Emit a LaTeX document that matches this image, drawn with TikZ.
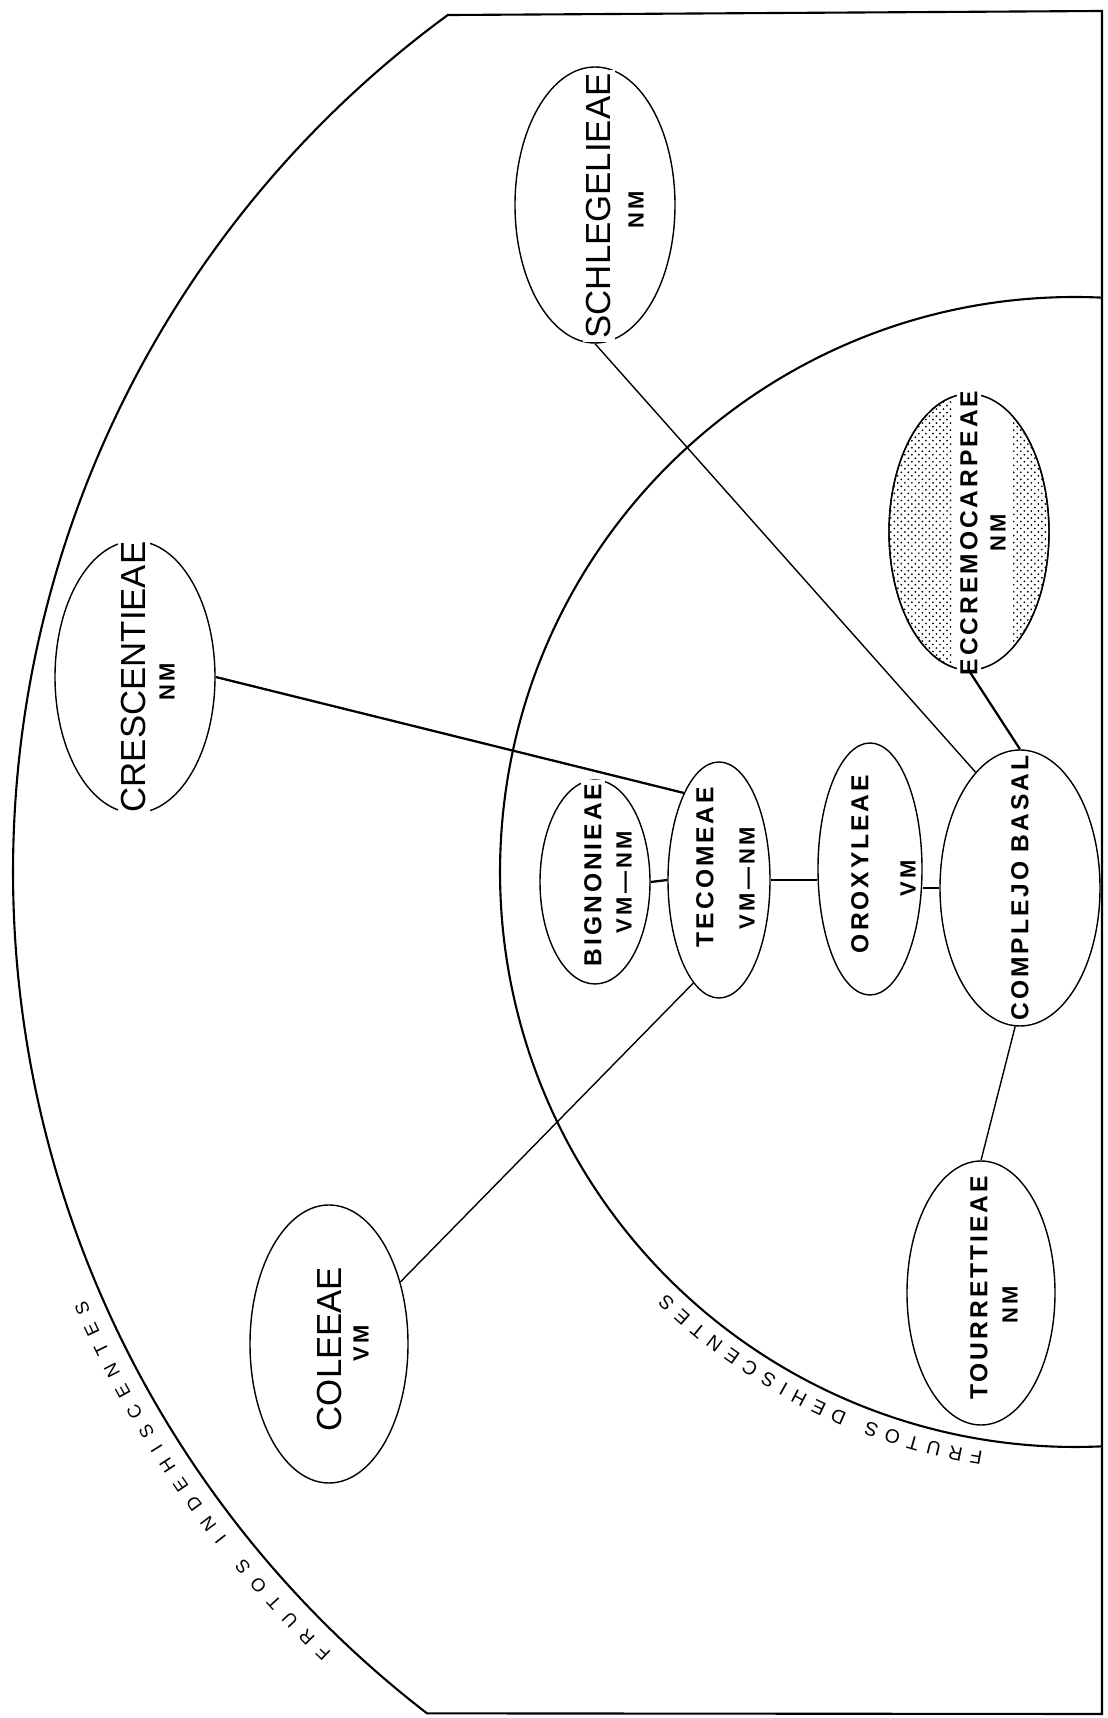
\documentclass[tikz,border=0pt]{standalone}
\usepackage{fontspec}
\setmainfont{Liberation Sans}
\newfontfamily\tribenamefont{Liberation Sans}
\newfontfamily\tribeboldfont[LetterSpace=12]{Liberation Sans}
\newfontfamily\fruittypefont[LetterSpace=15]{Liberation Sans}
\newcommand{\arclabelfont}{\tribenamefont\fontsize{10.5}{11}\selectfont}
\newcommand{\arclabelbig}{\tribenamefont\fontsize{11}{12}\selectfont}
\usetikzlibrary{shapes.geometric, patterns, decorations.text, calc}

% stippled fill
\pgfdeclarepatternformonly{stipple}{\pgfpoint{-0.1pt}{-0.1pt}}{\pgfpoint{4.1pt}{4.1pt}}{\pgfpoint{4pt}{4pt}}{%
  \pgfpathcircle{\pgfpoint{1pt}{1pt}}{0.55pt}%
  \pgfpathcircle{\pgfpoint{3pt}{3pt}}{0.55pt}%
  \pgfusepath{fill}%
}

\tikzset{
  tribe/.style 2 args={draw, ellipse, inner sep=0pt, line width=0.8pt,
    minimum width=#1*0.02cm, minimum height=#2*0.02cm},
  bigname/.style={rotate=90, fill=white, inner sep=2pt,
    font=\tribenamefont\fontsize{19.8}{20}\selectfont},
  boldname/.style={rotate=90, fill=white, inner sep=2pt,
    font=\tribeboldfont\bfseries\fontsize{14}{15}\selectfont},
  fruit/.style={rotate=90, inner sep=1pt,
    font=\fruittypefont\bfseries\fontsize{12.5}{13}\selectfont},
  thinlink/.style={line width=0.8pt},
  thicklink/.style={line width=1.3pt},
  frame/.style={line width=1.2pt, line join=miter}
}

\begin{document}
\begin{tikzpicture}[x=0.02cm, y=0.02cm]
\useasboundingbox (0,0) rectangle (1108,1718);
\coordinate (ctr) at (1075,846);

% the two regions
\draw[frame] (ctr) ++(126.2:1062) arc[start angle=126.2, end angle=232.4, radius=1062]
  -- (1102,4) -- (1102,1707) -- cycle;
\draw[frame] (ctr) ++(87.3:575) arc[start angle=87.3, end angle=272.7, radius=575];

\path[decorate, decoration={text along path, text align=fit to path,
  text={|\arclabelfont|FRUTOS INDEHISCENTES}}]
  ($(ctr)+(226.4:1078)$) arc[start angle=226.4, end angle=203.4, radius=1078];
\path[decorate, decoration={text along path, text align=fit to path,
  text={|\arclabelbig|FRUTOS DEHISCENTES}}]
  ($(ctr)+(261.0:587)$) arc[start angle=261.0, end angle=225.9, radius=587];

% tribes outside
\node[tribe={160}{276}] (schleg) at (595,1513) {};
\node[bigname] (schleg-t) at (599,1512) {SCHLEGELIEAE};
\node[fruit] (schleg-f) at (636,1508) {NM};

\node[tribe={160}{272}] (cresc) at (135,1041) {};
\node[bigname] (cresc-t) at (134,1041) {CRESCENTIEAE};
\node[fruit] (cresc-f) at (167,1036) {NM};

\node[tribe={158}{278}] (colee) at (329,374) {};
\node[bigname] (colee-t) at (330,369) {COLEEAE};
\node[fruit] (colee-f) at (361,375) {VM};

% tribes inside
\node[tribe={110}{204}] (bign) at (595,836) {};
\node[boldname] (bign-t) at (593,843) {BIGNONIEAE};
\node[fruit] (bign-f) at (624,836) {VM—NM};

\node[tribe={102}{236}] (tecom) at (719,838) {};
\node[boldname] (tecom-t) at (705,851) {TECOMEAE};
\node[fruit] (tecom-f) at (747,840) {VM—NM};

\node[tribe={104}{252}] (orox) at (870,849) {};
\node[boldname] (orox-t) at (860,854) {OROXYLEAE};
\node[fruit] (orox-f) at (908,840) {VM};

\node[tribe={160}{276}] (complejo) at (1020,830) {};
\node[boldname] (complejo-t) at (1020,830) {COMPLEJO BASAL};

\node[tribe={160}{276}, pattern=stipple] (eccrem) at (969,1186) {};
\begin{scope}
  \clip (eccrem.center) ellipse [x radius=80, y radius=138];
  \fill[white] (952,1040) rectangle (1013,1330);
\end{scope}
\draw[line width=0.8pt] (eccrem.center) ellipse [x radius=80, y radius=138];
\node[boldname] (eccrem-t) at (969,1185) {ECCREMOCARPEAE};
\node[fruit] (eccrem-f) at (998,1185) {NM};

\node[tribe={148}{264}] (tour) at (981,425) {};
\node[boldname] (tour-t) at (979,430) {TOURRETTIEAE};
\node[fruit] (tour-f) at (1010,413) {NM};

% links
\draw[thinlink] (schleg.south) -- (complejo.111);
\draw[thicklink] (eccrem.south) -- (complejo.north);
\draw[thicklink] (cresc.east) -- (tecom.112);
\draw[thinlink] (colee.41) -- (tecom.256);
\draw[thinlink] (complejo.268) -- (tour.north);
\draw[thicklink] (bign.east) -- (tecom.west);
\draw[thicklink] (tecom.east) -- (tecom.east -| orox.west);
\draw[thicklink] (complejo.west) -- (complejo.west -| orox.east);
\end{tikzpicture}
\end{document}
